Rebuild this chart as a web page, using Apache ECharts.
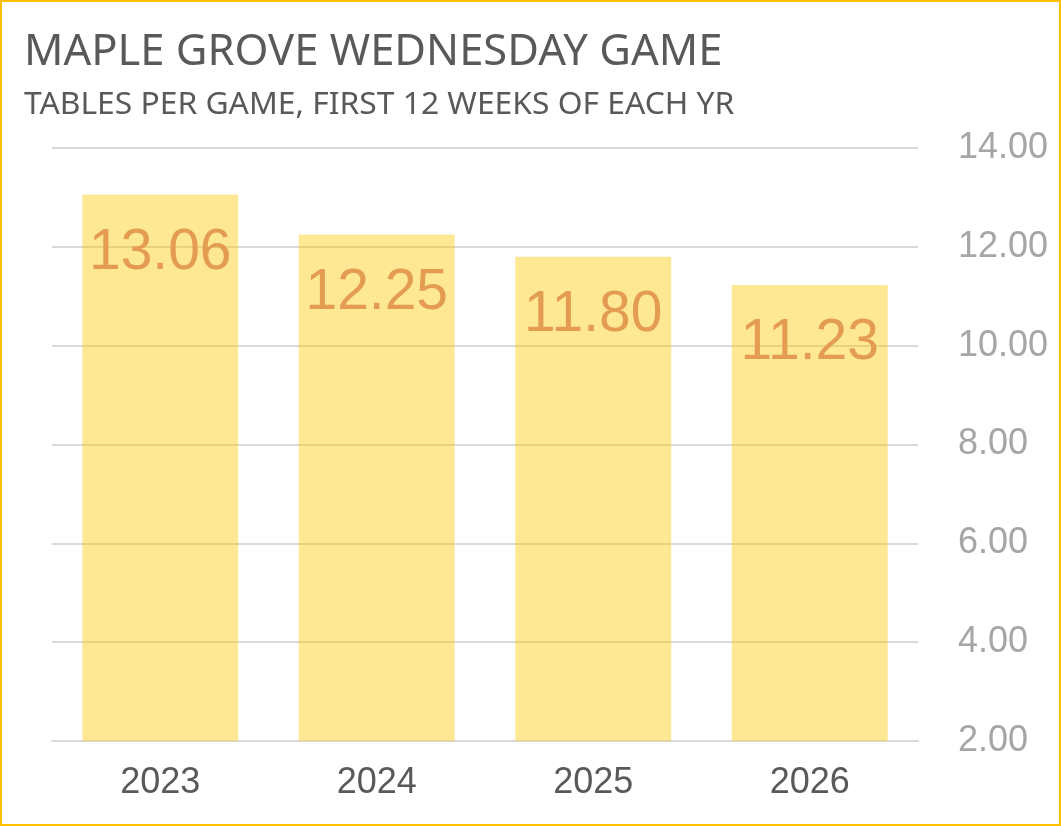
<!DOCTYPE html>
<html>
<head>
<meta charset="utf-8">
<script src="https://cdn.jsdelivr.net/npm/echarts@6/dist/echarts.min.js"></script>
<style>
  html, body { margin: 0; padding: 0; background: #fff; }
  #chart { width: 1061px; height: 826px; }
</style>
</head>
<body>
<div id="chart"></div>
<script>
const years = ["2023", "2024", "2025", "2026"];
const tablesPerGame = [13.06, 12.25, 11.80, 11.23];

const chart = echarts.init(document.getElementById("chart"));

chart.setOption({
  animation: false,
  title: {
    text: "MAPLE GROVE WEDNESDAY GAME",
    subtext: "TABLES PER GAME, FIRST 12 WEEKS OF EACH YR",
    left: 19,
    top: 26,
    itemGap: 14,
    textStyle: {
      fontFamily: "Noto Sans",
      fontSize: 43.5,
      fontWeight: "normal",
      color: "#595959",
    },
    subtextStyle: {
      fontFamily: "Noto Sans",
      fontSize: 31.8,
      color: "#595959",
    },
  },
  graphic: [
    {
      type: "rect",
      shape: { x: 1, y: 1, width: 1059, height: 824 },
      style: { fill: "none", stroke: "#FFC000", lineWidth: 2 },
      silent: true,
    },
  ],
  grid: {
    left: 52,
    right: 143,
    top: 148,
    bottom: 85,
  },
  xAxis: {
    type: "category",
    data: years,
    axisLine: {
      lineStyle: { color: "#d9d9d9", width: 2 },
    },
    axisTick: { show: false },
    axisLabel: {
      color: "#595959",
      fontFamily: "Liberation Sans",
      fontSize: 36,
      margin: 24,
    },
  },
  yAxis: {
    type: "value",
    position: "right",
    min: 2,
    max: 14,
    interval: 2,
    axisLine: { show: false },
    axisTick: { show: false },
    splitLine: {
      lineStyle: { color: "#d9d9d9", width: 2 },
    },
    axisLabel: {
      color: "#a6a6a6",
      fontFamily: "Liberation Sans",
      fontSize: 36,
      margin: 40,
      formatter: (value) => value.toFixed(2),
    },
  },
  series: [
    {
      type: "bar",
      data: tablesPerGame,
      barCategoryGap: "28%",
      itemStyle: {
        color: "rgba(255, 200, 0, 0.42)",
      },
      label: {
        show: true,
        position: "insideTop",
        distance: 30,
        color: "#E39C52",
        fontFamily: "Liberation Sans",
        fontSize: 57,
        formatter: (params) => params.value.toFixed(2),
      },
    },
  ],
});
</script>
</body>
</html>
